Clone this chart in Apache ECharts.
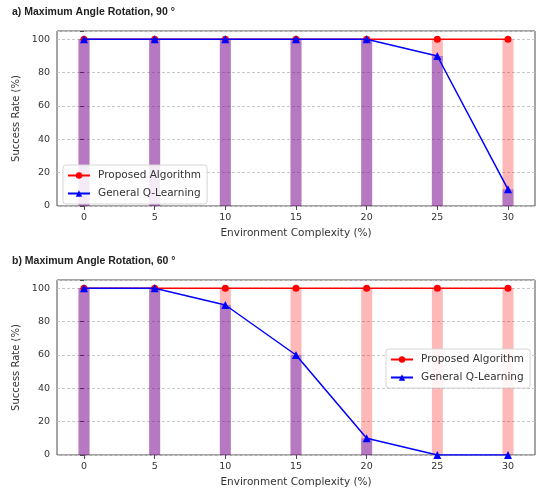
<!DOCTYPE html>
<html>
<head>
<meta charset="utf-8">
<script src="https://cdn.jsdelivr.net/npm/echarts@6/dist/echarts.min.js"></script>
<style>
  html, body { margin: 0; padding: 0; background: #fff; }
  #chart { width: 537px; height: 490px; }
</style>
</head>
<body>
<div id="chart"></div>
<script>
// Environment complexity levels (%)
const complexity = [0, 5, 10, 15, 20, 25, 30];

// Success rates (%) at a maximum rotation of 90 degrees
const proposed90 = [100, 100, 100, 100, 100, 100, 100];
const qlearning90 = [100, 100, 100, 100, 100, 90, 10];

// Success rates (%) at a maximum rotation of 60 degrees
const proposed60 = [100, 100, 100, 100, 100, 100, 100];
const qlearning60 = [100, 100, 90, 60, 10, 0, 0];

const yTicks = [0, 20, 40, 60, 80, 100];

const panelTitles = ['a) Maximum Angle Rotation, 90 °', 'b) Maximum Angle Rotation, 60 °'];
const seriesNames = ['Proposed Algorithm', 'General Q-Learning'];

const FONT = 'DejaVu Sans';
const TEXT = '#333';
const FRAME = '#4a4a4a';

const pairs = (vals) => complexity.map((x, i) => [x, vals[i]]);

const chart = echarts.init(document.getElementById('chart'), null, { renderer: 'canvas' });

const grids = [
  { left: 57, top: 31, width: 478, height: 175 },
  { left: 57, top: 280, width: 478, height: 175 }
].map(g => Object.assign(g, { show: true, borderColor: FRAME, borderWidth: 1, backgroundColor: 'transparent' }));

const xAxes = [0, 1].map(i => ({
  type: 'value',
  gridIndex: i,
  min: -1.91,
  max: 31.91,
  name: 'Environment Complexity (%)',
  nameLocation: 'middle',
  nameGap: 22,
  nameTextStyle: { fontFamily: FONT, fontSize: 10.5, color: TEXT },
  axisLine: { show: false },
  axisTick: { show: true, length: 4, lineStyle: { color: FRAME }, customValues: complexity },
  axisLabel: { fontFamily: FONT, fontSize: 9.5, color: TEXT, margin: 7, customValues: complexity },
  splitLine: { show: false }
}));

const yAxes = [0, 1].map(i => ({
  type: 'value',
  gridIndex: i,
  min: 0,
  max: 105,
  interval: 20,
  name: 'Success Rate (%)',
  nameLocation: 'middle',
  nameGap: 31,
  nameTextStyle: { fontFamily: FONT, fontSize: 10, color: TEXT },
  axisLine: { show: false },
  axisTick: { show: true, length: 4, lineStyle: { color: FRAME } },
  axisLabel: {
    fontFamily: FONT, fontSize: 9.5, color: TEXT, margin: 7,
    formatter: v => (yTicks.indexOf(v) >= 0 ? String(v) : '')
  },
  splitLine: { show: true, lineStyle: { color: '#c8c8c8', type: [3, 2], width: 1 } }
}));

const panels = [
  { proposed: proposed90, qlearning: qlearning90 },
  { proposed: proposed60, qlearning: qlearning60 }
];

const series = [];
panels.forEach((p, i) => {
  series.push({
    name: 'bar-proposed-' + i, type: 'bar', xAxisIndex: i, yAxisIndex: i,
    data: pairs(p.proposed), barWidth: 11, barGap: '-100%',
    itemStyle: { color: 'rgba(255,0,0,0.28)' }, z: 1, silent: true
  });
  series.push({
    name: 'bar-qlearning-' + i, type: 'bar', xAxisIndex: i, yAxisIndex: i,
    data: pairs(p.qlearning), barWidth: 11, barGap: '-100%',
    itemStyle: { color: 'rgba(40,0,210,0.34)' }, z: 2, silent: true
  });
  series.push({
    name: seriesNames[0], type: 'line', xAxisIndex: i, yAxisIndex: i,
    data: pairs(p.proposed), symbol: 'circle', symbolSize: 7,
    lineStyle: { color: '#ff0000', width: 1.5 }, itemStyle: { color: '#ff0000' },
    z: 3, animation: false
  });
  series.push({
    name: seriesNames[1], type: 'line', xAxisIndex: i, yAxisIndex: i,
    data: pairs(p.qlearning), symbol: 'triangle', symbolSize: 8,
    lineStyle: { color: '#0000ff', width: 1.5 }, itemStyle: { color: '#0000ff' },
    z: 4, animation: false
  });
});

const legendBase = {
  data: seriesNames,
  orient: 'vertical',
  itemWidth: 22,
  itemHeight: 8,
  itemGap: 7,
  padding: [5, 6, 5, 4],
  backgroundColor: 'rgba(255,255,255,0.85)',
  borderColor: '#d6d6d6',
  borderWidth: 1,
  borderRadius: 3,
  selectedMode: false,
  textStyle: { fontFamily: FONT, fontSize: 10.5, color: TEXT, padding: [0, 0, 0, 3] }
};

chart.setOption({
  animation: false,
  backgroundColor: '#ffffff',
  title: [
    { text: panelTitles[0], left: 12, top: 7 },
    { text: panelTitles[1], left: 12, top: 256 }
  ].map(t => Object.assign(t, {
    padding: 0,
    textStyle: { fontFamily: 'Liberation Sans', fontWeight: 'bold', fontSize: 10.5, color: '#222' }
  })),
  legend: [
    Object.assign({}, legendBase, { left: 63, top: 165 }),
    Object.assign({}, legendBase, { left: 386, top: 349 })
  ],
  grid: grids,
  xAxis: xAxes,
  yAxis: yAxes,
  series: series
});
</script>
</body>
</html>
